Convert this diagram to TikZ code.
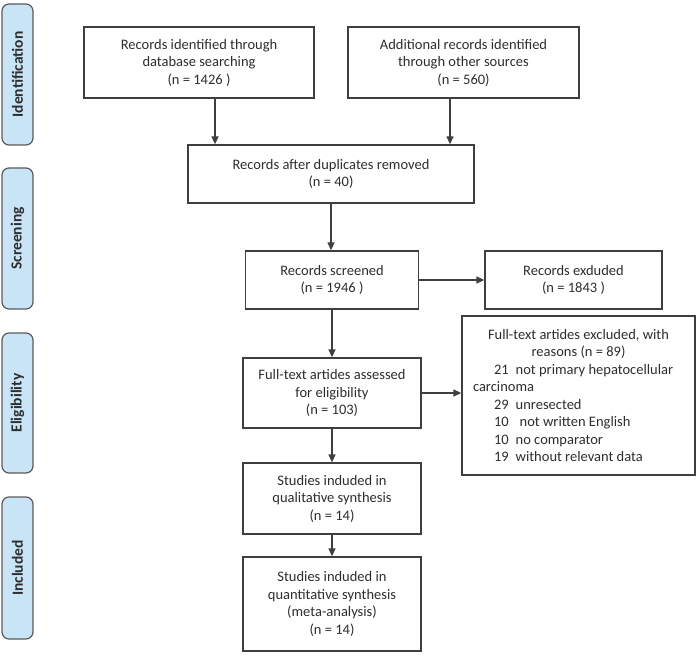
\documentclass[tikz,border=0pt]{standalone}
\usepackage{fontspec}
\setmainfont{Carlito}
\usetikzlibrary{arrows.meta}
\definecolor{boxgray}{HTML}{3F3F3F}
\definecolor{phasegray}{HTML}{5A5A5A}
\definecolor{phaseblue}{HTML}{C9E4F7}
\definecolor{txt}{HTML}{2E2E2E}

\begin{document}
\begin{tikzpicture}[x=1pt,y=-1pt,
        base/.style={rectangle, draw=boxgray, line width=1.3pt, fill=white,
                        inner sep=0pt, text=txt,
                        font=\fontsize{14.5}{17.5}\selectfont},
        box/.style={base, align=center},
        phase/.style={rectangle, rounded corners=7pt, draw=phasegray,
                        fill=phaseblue, line width=1.2pt, rotate=90,
                        minimum height=31pt, inner sep=0pt, text=txt,
                        font=\fontsize{15.5}{18}\selectfont\bfseries},
        arr/.style={-{Triangle[length=8pt,width=7pt]}, line width=1.3pt,
                        draw=boxgray}]
    \useasboundingbox (0,0) rectangle (700,660);
    % phases
    \node[phase, minimum width=141pt] (ident) at (17.5,74.5) {Identification};
    \node[phase, minimum width=141pt] (screen) at (17.5,238.5) {Screening};
    \node[phase, minimum width=140pt] (elig) at (17.5,403) {Eligibility};
    \node[phase, minimum width=142pt] (incl) at (17.5,568) {Included};
    % boxes
    \node[box, minimum width=230pt, minimum height=71pt] (srcdb) at (199,62.5)
        {Records identified through\\database searching\\(n = 1426 )};
    \node[box, minimum width=231pt, minimum height=71pt] (srcother) at (463.5,62.5)
        {Additional records identified\\through other sources\\(n = 560)};
    \node[box, minimum width=286pt, minimum height=58pt] (dedup) at (331,174)
        {Records after duplicates removed\\(n = 40)};
    \node[box, minimum width=173pt, minimum height=58pt] (screened) at (332,280)
        {Records screened\\(n = 1946 )};
    \node[box, minimum width=177pt, minimum height=58pt] (excluded) at (573.5,280)
        {Records exduded\\(n = 1843 )};
    \node[box, minimum width=178pt, minimum height=70pt] (fulltext) at (332,393)
        {Full-text artides assessed\\for eligibility\\(n = 103)};
    \node[base, minimum width=233pt, minimum height=159pt] (excl) at (578.5,395.5)
        {\parbox{211pt}{\centering Full-text artides excluded, with\\
         reasons (n = 89)\par\raggedright
         \hspace*{21pt}21\hspace{7pt}not primary hepatocellular\\
         carcinoma\\
         \hspace*{21pt}29\hspace{7pt}unresected\\
         \hspace*{21pt}10\hspace{11pt}not written English\\
         \hspace*{21pt}10\hspace{7pt}no comparator\\
         \hspace*{21pt}19\hspace{7pt}without relevant data}};
    \node[box, minimum width=178pt, minimum height=71pt] (qual) at (332,498.5)
        {Studies induded in\\qualitative synthesis\\(n = 14)};
    \node[box, minimum width=178pt, minimum height=94pt] (quant) at (332,604)
        {Studies induded in\\quantitative synthesis\\(meta-analysis)\\(n = 14)};
    % arrows
    \draw[arr] ([xshift=16pt]srcdb.south) -- ([xshift=16pt]srcdb.south |- dedup.north);
    \draw[arr] ([xshift=-13.5pt]srcother.south) -- ([xshift=-13.5pt]srcother.south |- dedup.north);
    \draw[arr] (dedup.south) -- (dedup.south |- screened.north);
    \draw[arr] (screened.east) -- (excluded.west);
    \draw[arr] (screened.south) -- (screened.south |- fulltext.north);
    \draw[arr] (fulltext.east) -- (fulltext.east -| excl.west);
    \draw[arr] (fulltext.south) -- (fulltext.south |- qual.north);
    \draw[arr] (qual.south) -- (qual.south |- quant.north);
\end{tikzpicture}
\end{document}
